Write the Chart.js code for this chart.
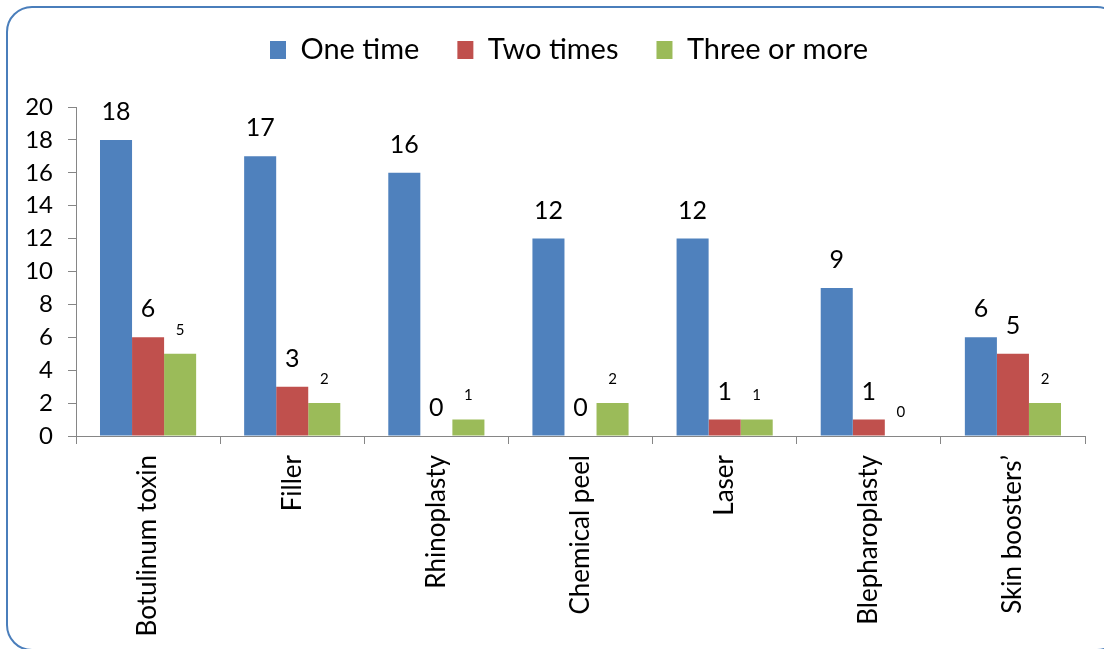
<!DOCTYPE html>
<html>
<head>
<meta charset="utf-8">
<script src="https://cdn.jsdelivr.net/npm/chart.js@4.4.1/dist/chart.umd.min.js"></script>
<style>
  html, body { margin: 0; padding: 0; background: #ffffff; }
  canvas { display: block; }
</style>
</head>
<body>
<canvas id="c" width="1104" height="649"></canvas>
<script>
const categories = ["Botulinum toxin", "Filler", "Rhinoplasty", "Chemical peel", "Laser", "Blepharoplasty", "Skin boosters\u2019"];
const seriesNames = ["One time", "Two times", "Three or more"];
const oneTime = [18, 17, 16, 12, 12, 9, 6];
const twoTimes = [6, 3, 0, 0, 1, 1, 5];
const threeOrMore = [5, 2, 1, 2, 1, 0, 2];
const seriesColors = ["#4F81BD", "#C0504D", "#9BBB59"];
const labelSizes = [25, 25, 15];
const labelOffsets = [28, 28, 24];

const FONT = "Lato, 'Noto Sans', sans-serif";

const borderPlugin = {
  id: 'frame',
  beforeDraw(chart) {
    const ctx = chart.ctx;
    ctx.save();
    ctx.fillStyle = '#ffffff';
    ctx.fillRect(0, 0, chart.width, chart.height);
    ctx.beginPath();
    ctx.roundRect(7, 7, 1115, 643, 25);
    ctx.strokeStyle = '#4A7EBB';
    ctx.lineWidth = 2;
    ctx.stroke();
    ctx.restore();
  }
};

const legendTweak = {
  id: 'legendTweak',
  afterInit(chart) {
    const lg = chart.legend;
    const orig = lg.fit;
    lg.fit = function () {
      orig.call(this);
      this.height = 107;
    };
  },
  afterLayout(chart) {
    chart.legend.left = 232;
    chart.legend.top = -2.5;
  }
};

const valueLabels = {
  id: 'valueLabels',
  afterDatasetsDraw(chart) {
    const ctx = chart.ctx;
    ctx.save();
    ctx.fillStyle = '#000000';
    ctx.textAlign = 'center';
    ctx.textBaseline = 'middle';
    chart.data.datasets.forEach((ds, i) => {
      const meta = chart.getDatasetMeta(i);
      ctx.font = labelSizes[i] + 'px ' + FONT;
      meta.data.forEach((bar, j) => {
        ctx.fillText(String(ds.data[j]), bar.x, bar.y - labelOffsets[i]);
      });
    });
    ctx.restore();
  }
};

const values = [oneTime, twoTimes, threeOrMore];

new Chart(document.getElementById('c'), {
  type: 'bar',
  data: {
    labels: categories,
    datasets: seriesNames.map((name, i) => ({
      label: name,
      data: values[i],
      backgroundColor: seriesColors[i],
      borderWidth: 0,
      categoryPercentage: 0.667,
      barPercentage: 1.0
    }))
  },
  options: {
    responsive: false,
    animation: false,
    devicePixelRatio: 1,
    layout: { padding: { top: 0, right: 19, bottom: 0, left: 0 } },
    plugins: {
      legend: {
        position: 'top',
        align: 'start',
        labels: {
          boxWidth: 16,
          boxHeight: 18,
          padding: 38,
          color: '#000000',
          font: { family: FONT, size: 29 }
        }
      },
      tooltip: { enabled: false }
    },
    scales: {
      x: {
        grid: { drawOnChartArea: false, drawTicks: true, tickLength: 8, color: '#868686', offset: true },
        border: { color: '#868686', width: 1 },
        ticks: {
          color: '#000000',
          font: { family: FONT, size: 26 },
          minRotation: 90,
          maxRotation: 90,
          padding: 11,
          autoSkip: false
        },
        afterFit(scale) { scale.height = 213; }
      },
      y: {
        min: 0,
        max: 20,
        grid: { drawOnChartArea: false, drawTicks: true, tickLength: 8, color: '#868686' },
        border: { color: '#868686', width: 1 },
        ticks: {
          stepSize: 2,
          autoSkip: false,
          color: '#000000',
          font: { family: FONT, size: 24 },
          padding: 15
        },
        afterFit(scale) { scale.width = 76; }
      }
    }
  },
  plugins: [borderPlugin, legendTweak, valueLabels]
});
</script>
</body>
</html>
